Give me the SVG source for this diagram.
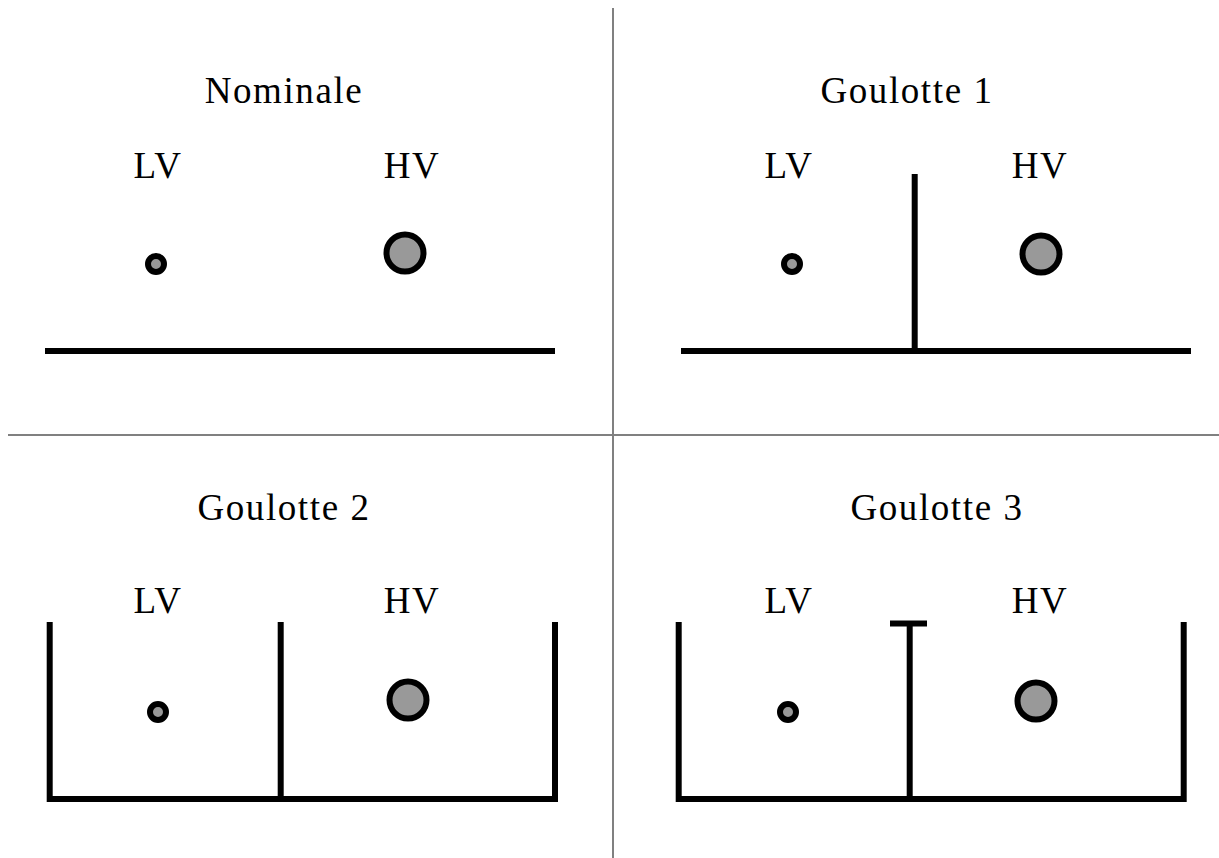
<svg xmlns="http://www.w3.org/2000/svg" width="1219" height="858" viewBox="0 0 1219 858">
<style>
.t{font-family:"Liberation Serif","Times New Roman",serif;font-size:37px;letter-spacing:1.6px;fill:#000;text-anchor:middle}
.w{fill:none;stroke:#000;stroke-width:6;stroke-linecap:butt;stroke-linejoin:miter}
.c{fill:#999;stroke:#000;stroke-width:6}
.d{stroke:#808080;stroke-width:2;fill:none}
</style>
<rect width="1219" height="858" fill="#fff"/>
<g id="dividers">
<line class="d" x1="613" y1="8" x2="613" y2="858"/>
<line class="d" x1="8" y1="435" x2="1219" y2="435"/>
</g>
<g id="nominale">
<text class="t" x="284" y="103">Nominale</text>
<text class="t" x="158" y="178">LV</text>
<text class="t" x="412" y="178">HV</text>
<circle class="c" cx="156" cy="264" r="8"/>
<circle class="c" cx="405" cy="253" r="18.5"/>
<line class="w" x1="45" y1="351" x2="555" y2="351"/>
</g>
<g id="goulotte1">
<text class="t" x="907" y="103">Goulotte 1</text>
<text class="t" x="789" y="178">LV</text>
<text class="t" x="1040" y="178">HV</text>
<circle class="c" cx="792" cy="264" r="8"/>
<circle class="c" cx="1041" cy="254" r="18.5"/>
<line class="w" x1="681" y1="351" x2="1191" y2="351"/>
<line class="w" x1="914.7" y1="174" x2="914.7" y2="351"/>
</g>
<g id="goulotte2">
<text class="t" x="284" y="520">Goulotte 2</text>
<text class="t" x="158" y="613">LV</text>
<text class="t" x="412" y="613">HV</text>
<circle class="c" cx="158" cy="712" r="8"/>
<circle class="c" cx="408" cy="700" r="18.5"/>
<polyline class="w" points="49.7,622 49.7,799 555,799 555,622"/>
<line class="w" x1="280.7" y1="622" x2="280.7" y2="799"/>
</g>
<g id="goulotte3">
<text class="t" x="937" y="520">Goulotte 3</text>
<text class="t" x="789" y="613">LV</text>
<text class="t" x="1040" y="613">HV</text>
<circle class="c" cx="788" cy="712" r="8"/>
<circle class="c" cx="1036" cy="701" r="18.5"/>
<polyline class="w" points="678.7,622 678.7,799 1183.7,799 1183.7,622"/>
<line class="w" x1="909.7" y1="623.5" x2="909.7" y2="799"/>
<line class="w" x1="890" y1="623.5" x2="927" y2="623.5"/>
</g>
</svg>
